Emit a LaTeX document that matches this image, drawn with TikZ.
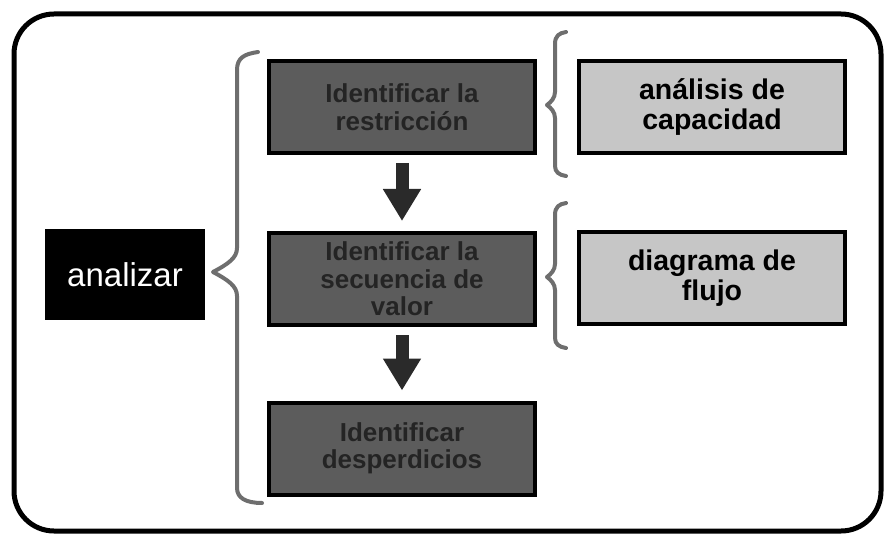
\documentclass[tikz,border=0pt]{standalone}
\usepackage{fontspec}
\setmainfont{Liberation Sans}
\usetikzlibrary{arrows.meta}
\definecolor{darkbox}{HTML}{5C5C5C}
\definecolor{darktext}{HTML}{242424}
\definecolor{lightbox}{HTML}{C6C6C6}
\definecolor{bracegray}{HTML}{6E6E6E}
\definecolor{arrowgray}{HTML}{2A2A2A}
\tikzset{
  stepbox/.style={draw=black, line width=4pt, fill=darkbox, text=darktext,
    minimum width=266pt, minimum height=92pt, inner sep=0pt, align=center,
    font=\fontsize{26}{27.5}\selectfont\bfseries},
  toolbox/.style={draw=black, line width=4pt, fill=lightbox, text=black,
    minimum width=266pt, minimum height=92pt, inner sep=0pt, align=center,
    font=\fontsize{28.5}{30}\selectfont\bfseries},
  headbox/.style={fill=black, text=white, minimum width=160pt,
    minimum height=91pt, inner sep=0pt,
    font=\fontsize{33}{35}\selectfont},
  bracestroke/.style={draw=bracegray, line width=4pt, line cap=round,
    line join=round},
  downarrow/.style={draw=arrowgray, line width=13pt,
    -{Triangle[width=36pt,length=32pt]}, shorten <=8pt, shorten >=10pt}
}
\begin{document}
\begin{tikzpicture}[x=1pt,y=-1pt]
\useasboundingbox (0,0) rectangle (885,537);

% outer frame
\draw[line width=5pt, rounded corners=40pt] (14,14) rectangle (881,531);

% main task
\node[headbox] (analizar) at (125,274.5) {analizar};

% steps
\node[stepbox] (s1) at (402,107) {Identificar la\\restricción};
\node[stepbox] (s2) at (402,279) {Identificar la\\secuencia de\\valor};
\node[stepbox] (s3) at (402,448.5) {Identificar\\desperdicios};

% tools
\node[toolbox] (t1) at (712,107) {análisis de\\capacidad};
\node[toolbox] (t2) at (712,278) {diagrama de\\flujo};

% flow arrows
\draw[downarrow] (s1.south) -- (s2.north);
\draw[downarrow] (s2.south) -- (s3.north);

% large brace grouping the steps
\draw[bracestroke] (258,52) .. controls (244,54) and (237,58) .. (237,70)
  -- (237,248) .. controls (237,258) and (228,264) .. (213,272)
  .. controls (228,280) and (237,286) .. (237,296)
  -- (237,488) .. controls (237,498) and (246,503) .. (262,503);

% small braces before the tools
\draw[bracestroke] (566,32) .. controls (559,33) and (555,36) .. (555,44)
  -- (555,92) .. controls (555,98) and (551,102) .. (547,105)
  .. controls (551,108) and (555,112) .. (555,118)
  -- (555,166) .. controls (555,172) and (559,175) .. (566,176);
\draw[bracestroke] (566,203) .. controls (559,204) and (555,207) .. (555,215)
  -- (555,264) .. controls (555,270) and (551,274) .. (547,277)
  .. controls (551,280) and (555,284) .. (555,290)
  -- (555,338) .. controls (555,344) and (559,347) .. (566,348);
\end{tikzpicture}
\end{document}
